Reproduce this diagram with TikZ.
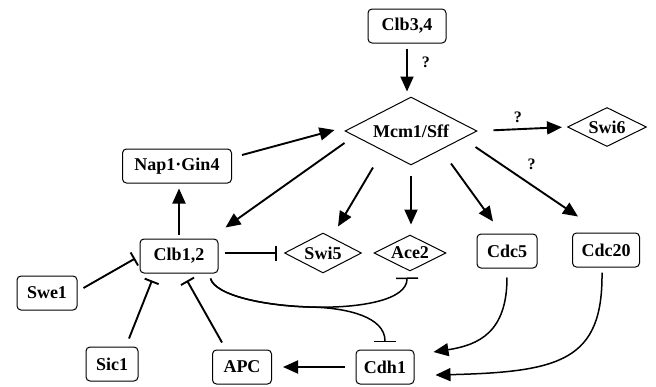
\documentclass[tikz,border=0pt]{standalone}
\usepackage{fontspec}
\setmainfont{Liberation Serif}
\usetikzlibrary{arrows.meta}
\usetikzlibrary{positioning}
\usetikzlibrary{shapes.geometric}

\begin{document}
\begin{tikzpicture}
  [
    x = 1pt, y = -1pt,
    node distance = 90pt,
    elem/.style = {draw, line width = 1pt, inner sep = 0pt,
                   font = \fontsize{18}{20}\selectfont\bfseries},
    protein/.style = {elem, rectangle, rounded corners = 4pt, minimum height = 34pt},
    factor/.style = {elem, diamond, aspect = 2},
    qmark/.style = {font = \fontsize{16}{18}\selectfont\bfseries, inner sep = 2pt},
    arrow/.style = {line width = 1.9pt},
    arrow-act/.style = {arrow, -{Triangle[length = 15pt, width = 13pt]}},
    arrow-curve/.style = {arrow-act, line width = 1.5pt},
    arrow-inh/.style = {arrow, -{Bar[width = 15pt]}},
    arrow-inh-wide/.style = {arrow, line width = 1.5pt, -{Bar[width = 22pt]}},
  ]
  \useasboundingbox (0,0) rectangle (656,386);

  \node[factor, minimum width = 132pt, minimum height = 68pt] (mcm) at (411,131) {Mcm1/Sff};
  \node[protein, minimum width = 78pt] [above of = mcm, xshift = -4pt, yshift = 15pt] (clb34) {Clb3,4};
  \node[factor, minimum width = 79pt, minimum height = 39pt] [right of = mcm, xshift = 106pt, yshift = 4pt] (swi6) {Swi6};
  \node[factor, minimum width = 72pt, minimum height = 36pt] [below of = mcm, xshift = -1pt, yshift = -32pt] (ace2) {Ace2};
  \node[factor, minimum width = 77pt, minimum height = 40pt] [left of = ace2, xshift = 3pt] (swi5) {Swi5};
  \node[protein, minimum width = 60pt] [right of = ace2, xshift = 7pt, yshift = 2pt] (cdc5) {Cdc5};
  \node[protein, minimum width = 67pt] [right of = cdc5, xshift = 9pt, yshift = 1pt] (cdc20) {Cdc20};
  \node[protein, minimum width = 78pt] [left of = swi5, xshift = -54pt, yshift = -3pt] (clb12) {Clb1,2};
  \node[protein, minimum width = 109pt] [above of = clb12, xshift = -2pt] (nap) {Nap1·Gin4};
  \node[protein, minimum width = 60pt] [left of = clb12, xshift = -42pt, yshift = -37pt] (swe1) {Swe1};
  \node[protein, minimum width = 58pt] [below of = ace2, xshift = -25pt, yshift = -24pt] (cdh1) {Cdh1};
  \node[protein, minimum width = 59pt] [left of = cdh1, xshift = -53pt] (apc) {APC};
  \node[protein, minimum width = 52pt] [left of = apc, xshift = -40pt, yshift = 3pt] (sic1) {Sic1};

  \draw[arrow-act, shorten <= 5pt, shorten >= 5pt] (clb34.south) -- (clb34.south |- mcm.north)
      node[qmark, pos = 0.35, right = 12pt] {?};
  \draw[arrow-act, shorten <= 16pt, shorten >= 5pt] (mcm.east) -- (swi6.west)
      node[qmark, pos = 0.45, above = 4pt] {?};
  \draw[arrow-act] ([xshift = 10pt, yshift = 11pt]nap.east) -- ([xshift = -10pt, yshift = 1pt]mcm.west);
  \draw[arrow-act] ([yshift = -12pt]mcm.west) -- ([xshift = 7pt, yshift = 11pt]clb12.north east);
  \draw[arrow-act, shorten <= 4pt, shorten >= 5pt] (clb12.north) -- (clb12.north |- nap.south);
  \draw[arrow-act] ([xshift = -38pt, yshift = -2pt]mcm.south) -- ([xshift = 15pt, yshift = 6pt]swi5.north);
  \draw[arrow-act, shorten <= 10pt, shorten >= 10pt] (mcm.south) -- (mcm.south |- ace2.north);
  \draw[arrow-act] ([xshift = 40pt, yshift = 2pt]mcm.south) -- ([xshift = -14pt, yshift = 12pt]cdc5.north);
  \draw[arrow-act] ([xshift = -2pt, yshift = -16pt]mcm.east) -- ([xshift = 6pt, yshift = 16pt]cdc20.north west)
      node[qmark, pos = 0.45, above = 6pt, xshift = 10pt] {?};

  \draw[arrow-inh, shorten <= 6pt, shorten >= 7pt] (clb12.east |- swi5.west) -- (swi5.west);
  \draw[arrow-inh, shorten >= 5pt] ([xshift = 6pt, yshift = 5pt]swe1.east) -- (clb12.west);
  \draw[arrow-inh] ([xshift = 17pt, yshift = 8pt]sic1.north) -- ([xshift = -27pt, yshift = -7pt]clb12.south);
  \draw[arrow-inh] ([xshift = -20pt, yshift = 7pt]apc.north) -- ([xshift = 8pt, yshift = -7pt]clb12.south);
  \draw[arrow-act, shorten <= 11pt, shorten >= 11pt] (cdh1.west) -- (apc.east);

  \coordinate (clb12_tail) at ([xshift = -8pt, yshift = -5pt]clb12.south east);
  \coordinate (split_pt) at (312.6,307.1);
  \draw[arrow-inh-wide] (clb12_tail) .. controls +(5,17) and +(-48.1,-1.1) .. (split_pt)
      .. controls +(48.15,1.15) and +(0.5,22.5) .. ([xshift = -3pt, yshift = -6pt]ace2.south);
  \draw[arrow-inh-wide] (clb12_tail) .. controls +(5,17) and +(-48.1,-1.1) .. (split_pt)
      .. controls +(35,1) and +(0,-25) .. ([yshift = 7.5pt]cdh1.north);

  \draw[arrow-curve] ([yshift = -9pt]cdc5.south) .. controls +(0,55) and +(45,-7) .. ([xshift = 19pt, yshift = 15pt]cdh1.east);
  \draw[arrow-curve] ([xshift = -4pt, yshift = -5pt]cdc20.south) .. controls +(1,88) and +(125,-3) .. ([xshift = 21pt, yshift = -8pt]cdh1.east);
\end{tikzpicture}
\end{document}
